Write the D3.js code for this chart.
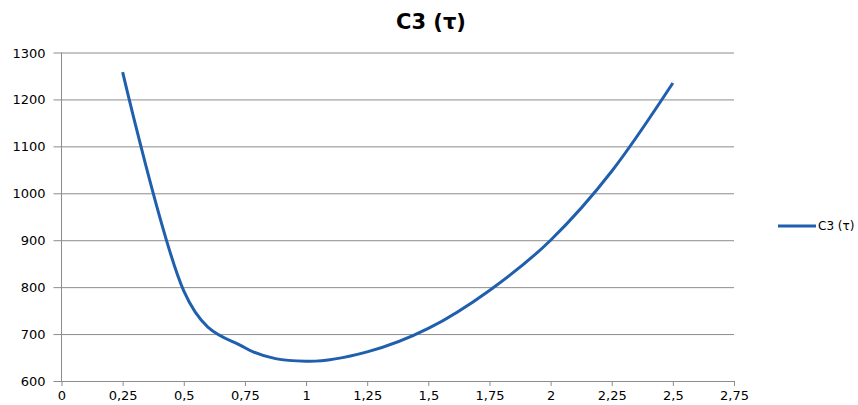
<!DOCTYPE html>
<html>
<head>
<meta charset="utf-8">
<script src="https://cdn.jsdelivr.net/npm/d3@7"></script>
<style>
  body { margin: 0; background: #fff; }
  text { font-family: "DejaVu Sans", Verdana, sans-serif; fill: #000; }
</style>
</head>
<body>
<svg id="chart" width="858" height="405"></svg>
<script>
// data
const tauValues = [0.25, 0.5, 0.75, 1, 1.25, 1.5, 1.75, 2, 2.25, 2.5];
const c3Values = [1258, 792, 671, 642, 662, 712, 793, 900, 1047, 1235];
const xTicks = [0, 0.25, 0.5, 0.75, 1, 1.25, 1.5, 1.75, 2, 2.25, 2.5, 2.75];
const yTicks = [600, 700, 800, 900, 1000, 1100, 1200, 1300];
const seriesName = "C3 (τ)";

const svg = d3.select("#chart");
const margin = { top: 52.5, left: 61.5, right: 124, bottom: 24 };
const width = 858, height = 405;
const innerW = width - margin.left - margin.right;
const innerH = height - margin.top - margin.bottom;
const g = svg.append("g").attr("transform", `translate(${margin.left},${margin.top})`);

const x = d3.scaleLinear().domain([0, 2.75]).range([0, innerW]);
const y = d3.scaleLinear().domain([600, 1300]).range([innerH, 0]);
const fmt = (d) => String(d).replace(".", ",");

// horizontal grid + y axis
const yAxis = g.append("g")
  .call(d3.axisLeft(y).tickValues(yTicks).tickSize(innerW + 8).tickFormat(d3.format("d")))
  .attr("transform", `translate(${innerW},0)`);
yAxis.select(".domain").remove();
yAxis.selectAll("line").attr("stroke", "#8c8c8c");
yAxis.selectAll("text").attr("x", -innerW - 16).attr("font-size", 13).attr("dy", "0.35em");

// x axis
const xAxis = g.append("g")
  .attr("transform", `translate(0,${innerH})`)
  .call(d3.axisBottom(x).tickValues(xTicks).tickSize(5).tickSizeOuter(0).tickFormat(fmt));
xAxis.select(".domain").attr("stroke", "#8c8c8c");
xAxis.selectAll("line").attr("stroke", "#8c8c8c");
xAxis.selectAll("text").attr("font-size", 13).attr("y", 10);

// vertical axis line
g.append("line")
  .attr("x1", 0).attr("x2", 0).attr("y1", 0).attr("y2", innerH)
  .attr("stroke", "#8c8c8c");

// the series
const points = tauValues.map((t, i) => [t, c3Values[i]]);
g.append("path")
  .datum(points)
  .attr("fill", "none")
  .attr("stroke", "#1f5fad")
  .attr("stroke-width", 3)
  .attr("d", d3.line().x((d) => x(d[0])).y((d) => y(d[1])).curve(d3.curveCardinal.tension(0)));

// title
svg.append("text")
  .attr("x", 431).attr("y", 29)
  .attr("text-anchor", "middle")
  .attr("font-size", 21).attr("font-weight", "bold")
  .text(seriesName);

// legend
const legend = svg.append("g").attr("transform", "translate(778,226)");
legend.append("line").attr("x1", 0).attr("x2", 38).attr("stroke", "#1f5fad").attr("stroke-width", 3);
legend.append("text").attr("x", 40).attr("dy", "0.35em").attr("font-size", 12).text(seriesName);
</script>
</body>
</html>
